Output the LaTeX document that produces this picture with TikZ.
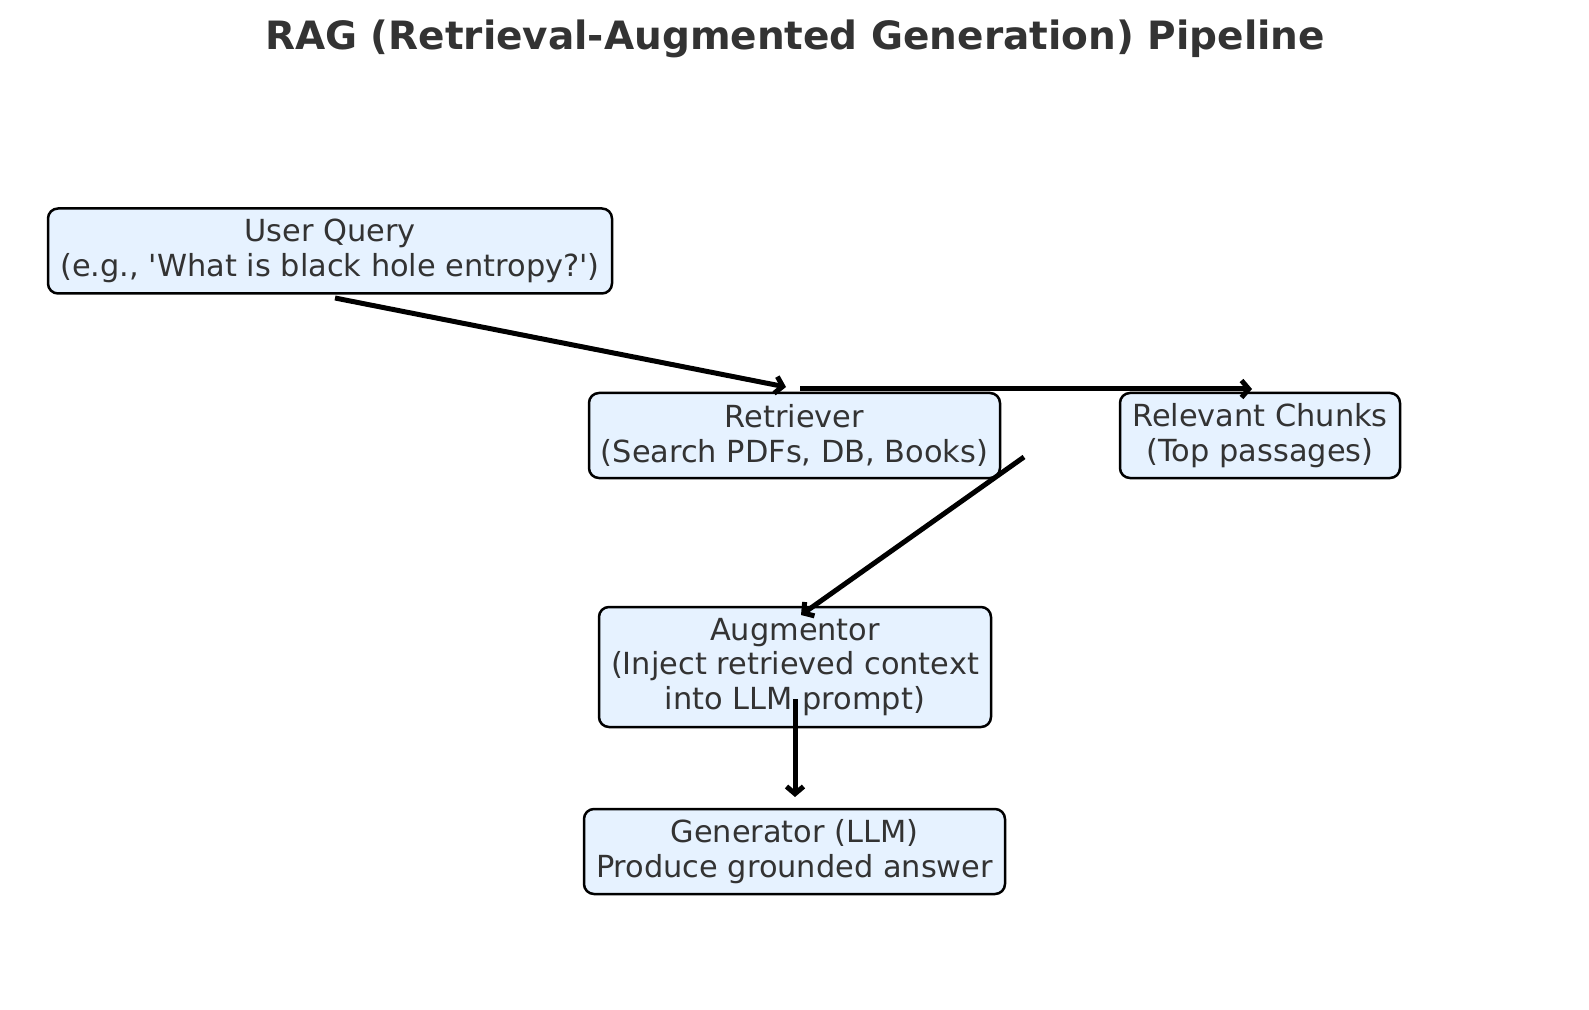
\documentclass[tikz,border=0pt]{standalone}
\usepackage{fontspec}
\setmainfont{DejaVu Sans}
\usetikzlibrary{arrows.meta}

\definecolor{boxfill}{HTML}{E6F2FF}
\definecolor{textgray}{HTML}{333333}

\begin{document}
\begin{tikzpicture}[
      x=0.5pt, y=-0.5pt,
      font=\fontsize{15.2pt}{17.4pt}\selectfont,
      box/.style={draw=black, line width=1.25pt, rounded corners=5pt,
        fill=boxfill, text=textgray, align=center, inner sep=0pt,
        minimum height=42.5pt},
      arrow/.style={-{Straight Barb[length=3.6pt,width=8.5pt]}, line width=2.5pt, draw=black}
    ]
    \useasboundingbox (0,0) rectangle (1589,1010);

    \node[text=textgray, font=\fontsize{19.5pt}{22pt}\selectfont\bfseries] (title) at (795,39) {RAG (Retrieval-Augmented Generation) Pipeline};

    \node[box, minimum width=282pt] (query) at (330,251) {User Query\\(e.g., \textquotesingle What is black hole entropy?\textquotesingle)};
    \node[box, minimum width=205.5pt] (retriever) at (794.5,435.5) {Retriever\\(Search PDFs, DB, Books)};
    \node[box, minimum width=140pt] (chunks) at (1260,435.5) {Relevant Chunks\\(Top passages)};
    \node[box, minimum width=196pt, minimum height=60pt] (augmentor) at (795,667) {Augmentor\\(Inject retrieved context\\into LLM prompt)};
    \node[box, minimum width=210.5pt] (generator) at (794.5,851.5) {Generator (LLM)\\Produce grounded answer};

    % arrow ends sit off the boxes, as in the source plot
    \coordinate (queryout) at (335,298);
    \coordinate (retrin) at (786,387);
    \coordinate (retrout) at (800,389);
    \coordinate (chunksin) at (1252,389);
    \coordinate (chunksout) at (1024,457);
    \coordinate (augin) at (801,615);
    \coordinate (augout) at (795,699);
    \coordinate (genin) at (795,797);

    \draw[arrow] (queryout) -- (retrin);
    \draw[arrow] (retrout) -- (chunksin);
    \draw[arrow] (chunksout) -- (augin);
    \draw[arrow] (augout) -- (genin);
  \end{tikzpicture}
\end{document}
